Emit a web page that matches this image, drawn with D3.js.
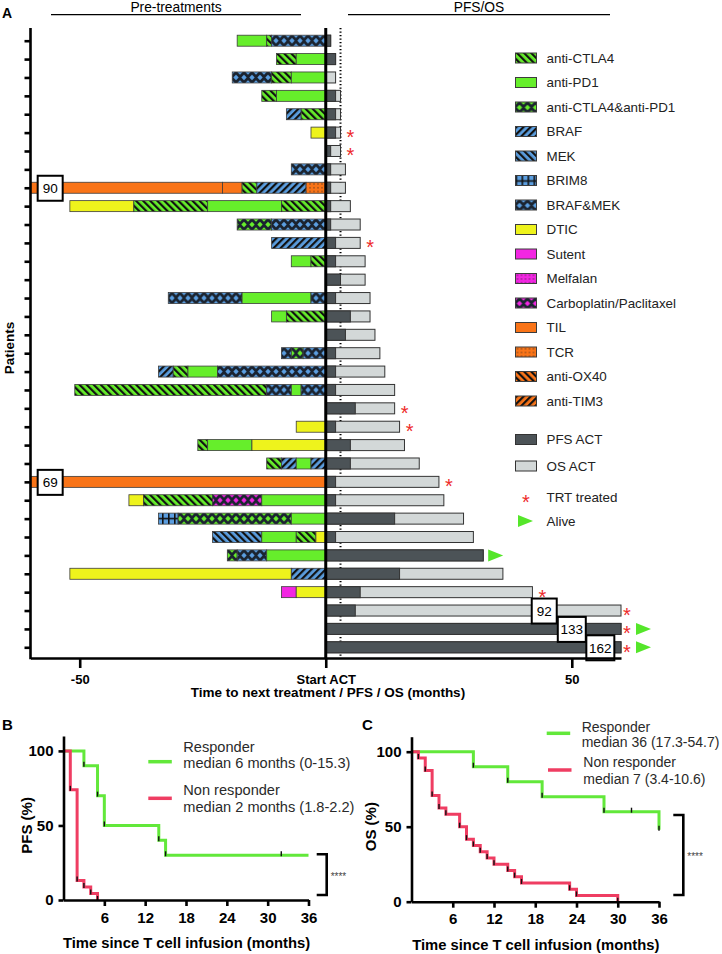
<!DOCTYPE html>
<html>
<head>
<meta charset="utf-8">
<script src="https://cdn.jsdelivr.net/npm/d3@7"></script>
<style>
body { margin: 0; background: #fff; }
svg { display: block; font-family: "Liberation Sans", Arial, sans-serif; }
</style>
</head>
<body>
<svg width="722" height="954"></svg>
<script>
// ---- data ----
var drugs = ['anti-CTLA4', 'anti-PD1', 'anti-CTLA4&anti-PD1', 'BRAF', 'MEK', 'BRIM8', 'BRAF&MEK',
    'DTIC', 'Sutent', 'Melfalan', 'Carboplatin/Paclitaxel', 'TIL', 'TCR', 'anti-OX40', 'anti-TIM3'];

var patients = d3.range(1, 35);

// [drug, from, to] in months before start of ACT, one list per patient (top to bottom)
var preTreatments = [
    [['anti-PD1', -18, -12], ['anti-CTLA4', -12, -11], ['BRAF&MEK', -11, 0]],
    [['anti-CTLA4', -10, -6], ['anti-PD1', -6, 0]],
    [['BRAF&MEK', -19, -11], ['anti-CTLA4', -11, -7], ['anti-PD1', -7, 0]],
    [['anti-CTLA4', -13, -10], ['anti-PD1', -10, 0]],
    [['BRAF', -8, -5], ['anti-CTLA4', -5, 0]],
    [['DTIC', -3, 0]],
    [],
    [['BRAF&MEK', -7, 0]],
    [['TIL', -90, -21], ['TIL', -21, -17], ['anti-CTLA4', -17, -14], ['BRAF', -14, -4], ['TCR', -4, 0]],
    [['DTIC', -52, -39], ['anti-CTLA4', -39, -24], ['anti-PD1', -24, -9], ['anti-CTLA4', -9, 0]],
    [['anti-CTLA4&anti-PD1', -18, -11], ['BRAF&MEK', -11, 0]],
    [['BRAF', -11, 0]],
    [['anti-PD1', -7, -3], ['anti-CTLA4', -3, 0]],
    [],
    [['BRAF&MEK', -32, -17], ['anti-PD1', -17, -3], ['BRAF&MEK', -3, 0]],
    [['anti-PD1', -11, -8], ['anti-CTLA4', -8, 0]],
    [],
    [['BRAF&MEK', -9, -7], ['anti-CTLA4&anti-PD1', -7, -4.6], ['BRAF&MEK', -4.6, 0]],
    [['BRAF', -34, -31], ['anti-CTLA4', -31, -28], ['anti-PD1', -28, -22], ['BRAF&MEK', -22, 0]],
    [['anti-CTLA4', -51, -12], ['BRAF&MEK', -12, -7], ['anti-PD1', -7, -5], ['BRAF&MEK', -5, 0]],
    [],
    [['DTIC', -6, 0]],
    [['anti-CTLA4', -26, -24], ['anti-PD1', -24, -15], ['DTIC', -15, 0]],
    [['anti-CTLA4', -12, -9], ['BRAF', -9, -6], ['anti-PD1', -6, -3], ['BRAF', -3, 0]],
    [['TIL', -69, 0]],
    [['DTIC', -40, -37], ['anti-CTLA4', -37, -23], ['Carboplatin/Paclitaxel', -23, -13], ['anti-PD1', -13, 0]],
    [['BRIM8', -34, -30], ['anti-CTLA4&anti-PD1', -30, -7], ['anti-PD1', -7, 0]],
    [['MEK', -23, -13], ['anti-PD1', -13, -6], ['anti-CTLA4', -6, -2], ['DTIC', -2, 0]],
    [['anti-CTLA4&anti-PD1', -20, -18], ['BRAF&MEK', -18, -12], ['anti-PD1', -12, 0]],
    [['DTIC', -52, -7], ['BRAF', -7, 0]],
    [['Sutent', -9, -6], ['DTIC', -6, 0]],
    [], [], []
];

var pfsMonths = [1, 2, 0, 2, 2, 2, 1, 1, 1, 1, 1, 2, 2, 3, 2, 5, 4, 2, 2, 2, 6, 2, 5, 5, 2, 2, 14, 2, 32, 15, 7, 6, 133, 162];
var osMonths = [1, 2, 2, 3, 3, 3, 3, 4, 4, 5, 7, 7, 8, 8, 9, 9, 10, 11, 12, 14, 14, 15, 16, 19, 23, 24, 28, 30, 32, 36, 42, 92, 133, 162];
var trtTreated = [6, 7, 12, 21, 22, 25, 31, 32, 33, 34];
var aliveAtEnd = [29, 33, 34];
// values beyond the axis, written in a box (box centre in months)
var offScale = [
    { patient: 9, label: '90', at: -56 },
    { patient: 25, label: '69', at: -56 },
    { patient: 32, label: '92', at: 44.4 },
    { patient: 33, label: '133', at: 50 },
    { patient: 34, label: '162', at: 55.8 }
];
var xTicksA = [-50, 0, 50];

// Kaplan-Meier steps [month, %]
var pfsResponder = [[0, 100], [3, 90], [5, 70], [6, 50], [14, 40], [15, 30], [36, 30]];
var pfsNonResponder = [[0, 100], [1, 73.9], [2, 13], [3, 8.7], [4, 4.3], [5, 0]];
var osResponder = [[0, 100], [9, 90], [14, 80], [19, 70], [28, 60], [36, 48]];
var osNonResponder = [[0, 100], [1, 95.8], [2, 87.5], [3, 70.8], [4, 62.5], [5, 58.3], [7, 50], [8, 41.7],
    [9, 37.5], [10, 33.3], [11, 29.2], [12, 25], [14, 20.8], [15, 16.7], [16, 12.5], [23, 8.3], [24, 4.2], [30, 0]];
var censoredAt = [32];
var monthTicks = [6, 12, 18, 24, 30, 36];
var pctTicks = [0, 50, 100];

// ---- styles ----
var green = '#66ee2b', blue = '#5b9ee0', yellow = '#eef31c', magenta = '#f226e2', orange = '#f97418';
var pfsGrey = '#4c5357', osGrey = '#d3d8d8';
var kmGreen = '#62e83a', kmRed = '#ef3d62';
var drugStyle = {
    'anti-CTLA4': [green, 'back'], 'anti-PD1': [green, 'solid'], 'anti-CTLA4&anti-PD1': [green, 'lattice'],
    'BRAF': [blue, 'fwd'], 'MEK': [blue, 'back'], 'BRIM8': [blue, 'grid'], 'BRAF&MEK': [blue, 'lattice'],
    'DTIC': [yellow, 'solid'], 'Sutent': [magenta, 'solid'], 'Melfalan': [magenta, 'dots'],
    'Carboplatin/Paclitaxel': [magenta, 'lattice'], 'TIL': [orange, 'solid'], 'TCR': [orange, 'dots'],
    'anti-OX40': [orange, 'back'], 'anti-TIM3': [orange, 'fwd']
};
var BH = 11;

var svg = d3.select('svg');
var defs = svg.append('defs');

drugs.forEach(function(name, i) {
    var c = drugStyle[name][0], kind = drugStyle[name][1];
    if (kind === 'solid') return;
    var p = defs.append('pattern').attr('id', 'pat' + i).attr('patternUnits', 'userSpaceOnUse');
    if (kind === 'back' || kind === 'fwd') {
        p.attr('width', 5).attr('height', 5)
            .attr('patternTransform', 'rotate(' + (kind === 'back' ? -45 : 45) + ')');
        p.append('rect').attr('width', 5).attr('height', 5).attr('fill', c);
        p.append('rect').attr('width', 2.2).attr('height', 5).attr('fill', '#111');
    } else if (kind === 'lattice') {
        p.attr('width', 8).attr('height', BH);
        p.append('rect').attr('width', 8).attr('height', BH).attr('fill', '#1b2430');
        [[4, BH / 2], [0, 0], [8, 0], [0, BH], [8, BH]].forEach(function(q) {
            var r = 2.7;
            p.append('path')
                .attr('d', 'M' + (q[0] - r) + ',' + q[1] + 'L' + q[0] + ',' + (q[1] - r) +
                    'L' + (q[0] + r) + ',' + q[1] + 'L' + q[0] + ',' + (q[1] + r) + 'Z')
                .attr('fill', c);
        });
    } else if (kind === 'grid') {
        p.attr('width', 6).attr('height', BH);
        p.append('rect').attr('width', 6).attr('height', BH).attr('fill', c);
        p.append('rect').attr('y', BH / 2 - 0.8).attr('width', 6).attr('height', 1.6).attr('fill', '#111');
        p.append('rect').attr('width', 1.6).attr('height', BH).attr('fill', '#111');
    } else if (kind === 'dots') {
        p.attr('width', 4).attr('height', 3.7);
        p.append('rect').attr('width', 4).attr('height', 3.7).attr('fill', c);
        p.append('circle').attr('cx', 2).attr('cy', 1.8).attr('r', 0.55).attr('fill', '#222');
    }
});

function drugFill(name) {
    var s = drugStyle[name];
    return s[1] === 'solid' ? s[0] : 'url(#pat' + drugs.indexOf(name) + ')';
}

function styleAxis(g, size, weight) {
    g.attr('font-family', '"Liberation Sans", Arial, sans-serif')
        .attr('font-size', size).attr('font-weight', weight);
    g.selectAll('.domain, .tick line').attr('stroke', '#000').attr('stroke-width', 2.6);
    g.selectAll('.tick text').attr('fill', '#000');
}

// **** Panel A ****
var xA = d3.scaleLinear().domain([-60, 60]).range([30.5, 621]);
var yA = d3.scalePoint().domain(patients).range([40.7, 647.3]);
var topA = 28, bottomA = 658;

svg.append('text').attr('x', 2).attr('y', 18).attr('font-weight', 'bold').attr('font-size', 14).text('A');

svg.append('text').attr('x', 176).attr('y', 11.5).attr('text-anchor', 'middle').attr('font-size', 13.8).text('Pre-treatments');
svg.append('line').attr('x1', 51).attr('x2', 301).attr('y1', 14.7).attr('y2', 14.7).attr('stroke', '#000').attr('stroke-width', 1.2);
svg.append('text').attr('x', 479).attr('y', 11.5).attr('text-anchor', 'middle').attr('font-size', 13.8).text('PFS/OS');
svg.append('line').attr('x1', 348).attr('x2', 610).attr('y1', 14.7).attr('y2', 14.7).attr('stroke', '#000').attr('stroke-width', 1.2);

// dotted 3-month line (behind the bars)
svg.append('line')
    .attr('x1', xA(3)).attr('x2', xA(3)).attr('y1', topA).attr('y2', bottomA)
    .attr('stroke', '#000').attr('stroke-width', 2).attr('stroke-dasharray', '1.3,2.2');

var rows = svg.append('g').selectAll('g.row')
    .data(patients)
    .enter()
    .append('g')
    .attr('class', 'row')
    .attr('transform', function(p) { return 'translate(0,' + (yA(p) - BH / 2) + ')'; });

rows.each(function(p, i) {
    var g = d3.select(this);
    preTreatments[i].forEach(function(s) {
        var x0 = xA(Math.max(s[1], -60)), x1 = xA(s[2]);
        g.append('rect').attr('x', x0).attr('y', 0).attr('width', x1 - x0).attr('height', BH)
            .attr('fill', drugFill(s[0])).attr('stroke', '#3c3c3c').attr('stroke-width', 0.8);
    });
    var osEnd = xA(Math.min(osMonths[i], 60));
    g.append('rect').attr('x', xA(0)).attr('y', 0).attr('width', osEnd - xA(0)).attr('height', BH)
        .attr('fill', osGrey).attr('stroke', '#333').attr('stroke-width', 1);
    if (pfsMonths[i] > 0) {
        var pfsEnd = xA(Math.min(pfsMonths[i], 60));
        g.append('rect').attr('x', xA(0)).attr('y', 0).attr('width', pfsEnd - xA(0)).attr('height', BH)
            .attr('fill', pfsGrey).attr('stroke', '#333').attr('stroke-width', 1);
    }
    var clipped = osMonths[i] > 60;
    var mx = osEnd + (clipped ? 6 : 10);
    if (trtTreated.indexOf(p) >= 0) {
        g.append('text').attr('x', mx).attr('y', BH / 2 + 11.5).attr('text-anchor', 'middle')
            .attr('font-size', 20).attr('fill', '#ee2a2a').text('*');
        mx += 9;
    } else {
        mx -= 5;
    }
    if (aliveAtEnd.indexOf(p) >= 0) {
        g.append('path').attr('d', 'M' + mx + ',' + (BH / 2 - 6) + 'L' + (mx + 15) + ',' + (BH / 2) + 'L' + mx + ',' + (BH / 2 + 6) + 'Z')
            .attr('fill', '#55e62a');
    }
});

// boxes for values beyond the axis
offScale.forEach(function(o) {
    var w = o.label.length > 2 ? 28 : 25;
    var cx = xA(o.at), cy = yA(o.patient) + 0.5;
    svg.append('rect').attr('x', cx - w / 2).attr('y', cy - 12.5).attr('width', w).attr('height', 25)
        .attr('fill', '#fff').attr('stroke', '#000').attr('stroke-width', 2);
    svg.append('text').attr('x', cx).attr('y', cy + 5).attr('text-anchor', 'middle').attr('font-size', 13.5).text(o.label);
});

// axes of panel A
var yAxisA = svg.append('g').attr('transform', 'translate(30.5,0)')
    .call(d3.axisLeft(yA).tickSize(6).tickFormat(''));
yAxisA.select('.domain').remove();
styleAxis(yAxisA, 13, 'bold');
svg.append('line').attr('x1', 30.5).attr('x2', 30.5).attr('y1', topA).attr('y2', bottomA + 1.3)
    .attr('stroke', '#000').attr('stroke-width', 2.6);

var xAxisA = svg.append('g').attr('transform', 'translate(0,' + bottomA + ')')
    .call(d3.axisBottom(xA).tickValues(xTicksA).tickSize(10).tickSizeOuter(0).tickPadding(7)
        .tickFormat(function(d) { return d === 0 ? 'Start ACT' : d; }));
styleAxis(xAxisA, 13, 'bold');

svg.append('line').attr('x1', xA(0)).attr('x2', xA(0)).attr('y1', topA).attr('y2', bottomA)
    .attr('stroke', '#000').attr('stroke-width', 3);

svg.append('text').attr('x', 328).attr('y', 697).attr('text-anchor', 'middle')
    .attr('font-weight', 'bold').attr('font-size', 13.5).text('Time to next treatment / PFS / OS (months)');
svg.append('text').attr('transform', 'translate(14,348) rotate(-90)').attr('text-anchor', 'middle')
    .attr('font-weight', 'bold').attr('font-size', 13.5).text('Patients');

// legend of panel A
var legendY = d3.scaleLinear().domain([0, drugs.length - 1]).range([58, 401]);
var legend = svg.append('g');
drugs.forEach(function(name, i) {
    var g = legend.append('g').attr('transform', 'translate(515.5,' + (legendY(i) - 5) + ')');
    g.append('rect').attr('width', 21).attr('height', 10).attr('fill', drugFill(name))
        .attr('stroke', '#3c3c3c').attr('stroke-width', 1);
    legend.append('text').attr('x', 546.5).attr('y', legendY(i) + 4.7).attr('font-size', 13.4)
        .attr('fill', '#222').text(name);
});
[['PFS ACT', pfsGrey, 439.5], ['OS ACT', osGrey, 466]].forEach(function(d) {
    legend.append('rect').attr('x', 515.5).attr('y', d[2] - 5).attr('width', 21).attr('height', 10)
        .attr('fill', d[1]).attr('stroke', '#333').attr('stroke-width', 1);
    legend.append('text').attr('x', 546.5).attr('y', d[2] + 4.7).attr('font-size', 13.4).attr('fill', '#222').text(d[0]);
});
legend.append('text').attr('x', 526).attr('y', 497 + 11.5).attr('text-anchor', 'middle')
    .attr('font-size', 20).attr('fill', '#ee2a2a').text('*');
legend.append('text').attr('x', 546.5).attr('y', 497 + 4.7).attr('font-size', 13.4).attr('fill', '#222').text('TRT treated');
legend.append('path').attr('d', 'M518,515L533,521L518,527Z').attr('fill', '#55e62a');
legend.append('text').attr('x', 546.5).attr('y', 521 + 4.7).attr('font-size', 13.4).attr('fill', '#222').text('Alive');

// **** Panels B and C ****
function kmPanel(o) {
    var x = d3.scaleLinear().domain([0, 36]).range(o.xr);
    var y = d3.scaleLinear().domain([0, 110]).range(o.yr);
    var g = svg.append('g');

    var line = d3.line()
        .x(function(d) { return x(d[0]); })
        .y(function(d) { return y(d[1]); })
        .curve(d3.curveStepAfter);

    o.curves.forEach(function(c) {
        g.append('path').datum(c.data).attr('d', line).attr('fill', 'none')
            .attr('stroke', c.color).attr('stroke-width', 3);
    });
    o.curves.forEach(function(c) {
        var marks = c.data.filter(function(d, i) { return i > 0 && d[1] < c.data[i - 1][1]; });
        if (c.censor) {
            c.censor.forEach(function(t) {
                var lvl = c.data.filter(function(d) { return d[0] <= t; }).pop()[1];
                marks.push([t, lvl]);
            });
        }
        g.selectAll(null).data(marks).enter().append('line')
            .attr('x1', function(d) { return x(d[0]); })
            .attr('x2', function(d) { return x(d[0]); })
            .attr('y1', function(d) { return y(d[1]) - 4; })
            .attr('y2', function(d) { return y(d[1]) + 1; })
            .attr('stroke', '#111').attr('stroke-width', 1.4);
    });

    var xa = g.append('g').attr('transform', 'translate(0,' + o.yr[0] + ')')
        .call(d3.axisBottom(x).tickValues(monthTicks).tickSize(6).tickSizeOuter(0).tickPadding(6));
    styleAxis(xa, 15, 'bold');
    var ya = g.append('g').attr('transform', 'translate(' + o.xr[0] + ',0)')
        .call(d3.axisLeft(y).tickValues(pctTicks).tickSize(5).tickSizeOuter(0).tickPadding(5));
    styleAxis(ya, 15, 'bold');

    g.append('text').attr('x', o.letterX).attr('y', 730).attr('font-weight', 'bold').attr('font-size', 15).text(o.letter);
    g.append('text').attr('x', (o.xr[0] + o.xr[1]) / 2 + 0.5).attr('y', o.titleY).attr('text-anchor', 'middle')
        .attr('font-weight', 'bold').attr('font-size', 14.8).text('Time since T cell infusion (months)');
    g.append('text').attr('transform', 'translate(' + o.ylabX + ',' + y(50) + ') rotate(-90)')
        .attr('text-anchor', 'middle').attr('font-weight', 'bold').attr('font-size', 15).text(o.ylabel);

    // legend
    o.legend.forEach(function(l) {
        g.append('line').attr('x1', l.lx).attr('x2', l.lx + 23.5).attr('y1', l.ly).attr('y2', l.ly)
            .attr('stroke', l.color).attr('stroke-width', 3.5);
        g.append('text').attr('x', l.tx).attr('y', l.t1).attr('font-size', o.legendSize).attr('fill', '#2a2a2a').text(l.lines[0]);
        g.append('text').attr('x', l.tx).attr('y', l.t2).attr('font-size', o.legendSize).attr('fill', '#2a2a2a').text(l.lines[1]);
    });

    // significance bracket
    var b = o.bracket;
    g.append('path').attr('d', 'M' + (b.x - 10) + ',' + b.y0 + 'H' + b.x + 'V' + b.y1 + 'H' + (b.x - 10))
        .attr('fill', 'none').attr('stroke', '#000').attr('stroke-width', 2.6);
    g.append('text').attr('x', b.x + 4).attr('y', (b.y0 + b.y1) / 2 + 5).attr('font-size', 10)
        .attr('fill', '#444').text('****');
}

kmPanel({
    xr: [63.5, 308.5], yr: [900, 736], letter: 'B', letterX: 2, titleY: 948, ylabX: 31.5, ylabel: 'PFS (%)',
    legendSize: 14.6,
    curves: [
        { data: pfsResponder, color: kmGreen, censor: censoredAt },
        { data: pfsNonResponder, color: kmRed }
    ],
    legend: [
        { color: kmGreen, lx: 148.3, ly: 761.7, tx: 183.3, t1: 751.7, t2: 767.5, lines: ['Responder', 'median 6 months (0-15.3)'] },
        { color: kmRed, lx: 148.3, ly: 798.3, tx: 183.3, t1: 795, t2: 811.7, lines: ['Non responder', 'median 2 months (1.8-2.2)'] }
    ],
    bracket: { x: 326.7, y0: 854.3, y1: 895 }
});

kmPanel({
    xr: [411.5, 659], yr: [901.7, 736.7], letter: 'C', letterX: 362, titleY: 950, ylabX: 376, ylabel: 'OS (%)',
    legendSize: 14,
    curves: [
        { data: osResponder, color: kmGreen, censor: censoredAt },
        { data: osNonResponder, color: kmRed }
    ],
    legend: [
        { color: kmGreen, lx: 546.7, ly: 733.3, tx: 581.7, t1: 731.7, t2: 747, lines: ['Responder', 'median 36 (17.3-54.7)'] },
        { color: kmRed, lx: 548, ly: 770, tx: 583.3, t1: 766.7, t2: 784.3, lines: ['Non responder', 'median 7 (3.4-10.6)'] }
    ],
    bracket: { x: 683.3, y0: 815, y1: 895 }
});
</script>
</body>
</html>
